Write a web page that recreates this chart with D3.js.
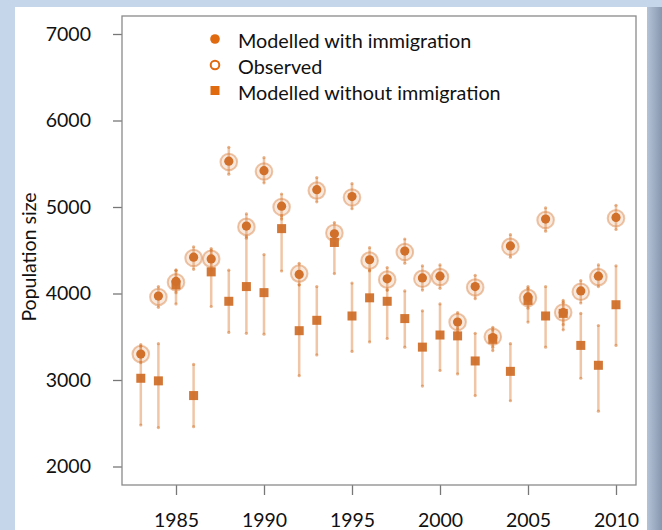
<!DOCTYPE html>
<html>
<head>
<meta charset="utf-8">
<script src="https://cdn.jsdelivr.net/npm/d3@7"></script>
<style>
  html, body { margin: 0; padding: 0; background: #c6d6ea; }
  svg { display: block; }
</style>
</head>
<body>
<div id="chart"></div>
<script>
var canvasWidth = 662;
var canvasHeight = 530;

/* data */
var years = [1983, 1984, 1985, 1986, 1987, 1988, 1989, 1990, 1991, 1992, 1993, 1994, 1995, 1996,
             1997, 1998, 1999, 2000, 2001, 2002, 2003, 2004, 2005, 2006, 2007, 2008, 2009, 2010];
var withImm   = [3300, 3970, 4140, 4420, 4400, 5530, 4780, 5420, 5010, 4220, 5200, 4690, 5120, 4390,
                 4170, 4490, 4180, 4200, 3670, 4080, 3490, 4550, 3960, 4860, 3780, 4030, 4200, 4880];
var withLo    = [3200, 3840, 4010, 4280, 4270, 5380, 4640, 5280, 4860, 4100, 5060, 4560, 4980, 4260,
                 4040, 4350, 4040, 4060, 3550, 3940, 3380, 4420, 3830, 4720, 3640, 3890, 4080, 4740];
var withHi    = [3410, 4080, 4270, 4540, 4520, 5690, 4920, 5570, 5150, 4350, 5340, 4820, 5270, 4530,
                 4300, 4630, 4320, 4330, 3780, 4210, 3610, 4680, 4080, 4990, 3920, 4150, 4330, 5020];
var observed  = [3300, 3960, 4130, 4410, 4400, 5520, 4770, 5410, 5000, 4230, 5190, 4700, 5110, 4380,
                 4160, 4480, 4170, 4190, 3670, 4070, 3500, 4540, 3950, 4850, 3780, 4020, 4190, 4870];
var withoutImm = [3020, 2990, 4100, 2820, 4250, 3910, 4080, 4010, 4750, 3570, 3690, 4590, 3740, 3950,
                  3910, 3710, 3380, 3520, 3510, 3220, 3470, 3100, 3920, 3740, 3770, 3400, 3170, 3870];
var withoutLo  = [2480, 2450, 3880, 2460, 3850, 3550, 3540, 3530, 4260, 3050, 3290, 4230, 3330, 3440,
                  3480, 3380, 2930, 3110, 3070, 2820, 3340, 2760, 3670, 3380, 3580, 3020, 2640, 3400];
var withoutHi  = [3390, 3420, 4270, 3180, 4500, 4270, 4660, 4450, 4900, 4100, 4080, 4700, 4120, 4270,
                  4040, 4030, 3800, 3880, 3600, 3540, 3580, 3420, 4060, 4080, 3900, 3770, 3630, 4320];
var xTicks = [1985, 1990, 1995, 2000, 2005, 2010];
var yTicks = [2000, 3000, 4000, 5000, 6000, 7000];
var legendLabels = ["Modelled with immigration", "Observed", "Modelled without immigration"];

var data = years.map(function(yr, i) {
    return {year: yr, w: withImm[i], wLo: withLo[i], wHi: withHi[i], obs: observed[i],
            wo: withoutImm[i], woLo: withoutLo[i], woHi: withoutHi[i]};
});

var font = "Lato, 'Open Sans', sans-serif";
var orange = "#d0702a";
var barColor = "rgba(226,142,78,0.5)";

var svg = d3.select("#chart")
    .append("svg")
    .attr("width", canvasWidth)
    .attr("height", canvasHeight);

/* slide panel + shadow strip */
var grad = svg.append("defs").append("linearGradient").attr("id", "shade");
grad.append("stop").attr("offset", "0%").attr("stop-color", "#b4c3d7");
grad.append("stop").attr("offset", "100%").attr("stop-color", "#8797ae");
svg.append("rect").attr("x", 647).attr("y", 7).attr("width", 15).attr("height", 523).attr("fill", "url(#shade)");
svg.append("rect").attr("x", 15).attr("y", 7).attr("width", 632).attr("height", 523).attr("fill", "#fff");

/* plot box */
var box = {left: 122, right: 636, top: 16, bottom: 485};

var x = d3.scaleLinear().domain([1985, 2010]).range([176, 616]);
var y = d3.scaleLinear().domain([2000, 7000]).range([466.5, 34]);

/* Y axis */
var yAxis = svg.append("g")
    .attr("transform", "translate(" + box.left + ",0)")
    .call(d3.axisLeft(y).tickValues(yTicks).tickSize(9).tickPadding(22).tickFormat(d3.format("d")));
yAxis.select(".domain").remove();
yAxis.selectAll("line").attr("stroke", "#777").attr("stroke-width", 1.3);
yAxis.selectAll("text").attr("font-family", font).attr("font-size", 19.5).attr("fill", "#111");

/* X axis */
var xAxis = svg.append("g")
    .attr("transform", "translate(0," + box.bottom + ")")
    .call(d3.axisBottom(x).tickValues(xTicks).tickSize(10).tickPadding(18).tickFormat(d3.format("d")));
xAxis.select(".domain").remove();
xAxis.selectAll("line").attr("stroke", "#777").attr("stroke-width", 1.3);
xAxis.selectAll("text").attr("font-family", font).attr("font-size", 19.5).attr("fill", "#111");

/* frame */
svg.append("rect")
    .attr("x", box.left).attr("y", box.top)
    .attr("width", box.right - box.left).attr("height", box.bottom - box.top)
    .attr("fill", "none").attr("stroke", "#8a8a8a").attr("stroke-width", 1.3);

/* Y label */
svg.append("text")
    .attr("transform", "translate(36,257) rotate(-90)")
    .attr("text-anchor", "middle")
    .attr("font-family", font).attr("font-size", 19.5).attr("fill", "#111")
    .text("Population size");

var plot = svg.append("g");

/* error bars: without immigration */
plot.selectAll(".woBar").data(data).enter().append("line")
    .attr("class", "woBar")
    .attr("x1", d => x(d.year)).attr("x2", d => x(d.year))
    .attr("y1", d => y(d.woLo)).attr("y2", d => y(d.woHi))
    .attr("stroke", barColor).attr("stroke-width", 2.5);

/* error bars: with immigration */
plot.selectAll(".wBar").data(data).enter().append("line")
    .attr("class", "wBar")
    .attr("x1", d => x(d.year)).attr("x2", d => x(d.year))
    .attr("y1", d => y(d.wLo)).attr("y2", d => y(d.wHi))
    .attr("stroke", barColor).attr("stroke-width", 2.5);

/* end caps */
var caps = [];
data.forEach(function(d) {
    [d.woLo, d.woHi, d.wLo, d.wHi].forEach(function(v) { caps.push({year: d.year, v: v}); });
});
plot.selectAll(".cap").data(caps).enter().append("circle")
    .attr("class", "cap")
    .attr("cx", d => x(d.year)).attr("cy", d => y(d.v))
    .attr("r", 1.6).attr("fill", "rgba(214,120,50,0.55)");

/* squares */
plot.selectAll(".sq").data(data).enter().append("rect")
    .attr("class", "sq")
    .attr("x", d => x(d.year) - 4.5).attr("y", d => y(d.wo) - 4.5)
    .attr("width", 9).attr("height", 9)
    .attr("fill", orange).attr("fill-opacity", 0.95);

/* observed rings */
plot.selectAll(".obs").data(data).enter().append("circle")
    .attr("class", "obs")
    .attr("cx", d => x(d.year)).attr("cy", d => y(d.obs))
    .attr("r", 8.3)
    .attr("fill", "rgba(214,120,50,0.16)")
    .attr("stroke", "rgba(214,120,50,0.42)").attr("stroke-width", 2);

/* modelled with immigration */
plot.selectAll(".dot").data(data).enter().append("circle")
    .attr("class", "dot")
    .attr("cx", d => x(d.year)).attr("cy", d => y(d.w))
    .attr("r", 4.6).attr("fill", orange);

/* legend */
var legend = svg.append("g").attr("transform", "translate(215,42)");
legendLabels.forEach(function(lab, i) {
    var g = legend.append("g").attr("transform", "translate(0," + (i * 26) + ")");
    if (i === 0) {
        g.append("circle").attr("r", 4.8).attr("cy", -3).attr("fill", "#e06a10");
    } else if (i === 1) {
        g.append("circle").attr("r", 4.3).attr("cy", -3).attr("fill", "#fff")
            .attr("stroke", "#e06a10").attr("stroke-width", 2);
    } else {
        g.append("rect").attr("x", -4.5).attr("y", -8).attr("width", 9).attr("height", 9).attr("fill", "#e06a10");
    }
    g.append("text")
        .attr("x", 23).attr("y", 0).attr("dy", "0.32em")
        .attr("font-family", font).attr("font-size", 19.8).attr("fill", "#111")
        .text(lab);
});
</script>
</body>
</html>
